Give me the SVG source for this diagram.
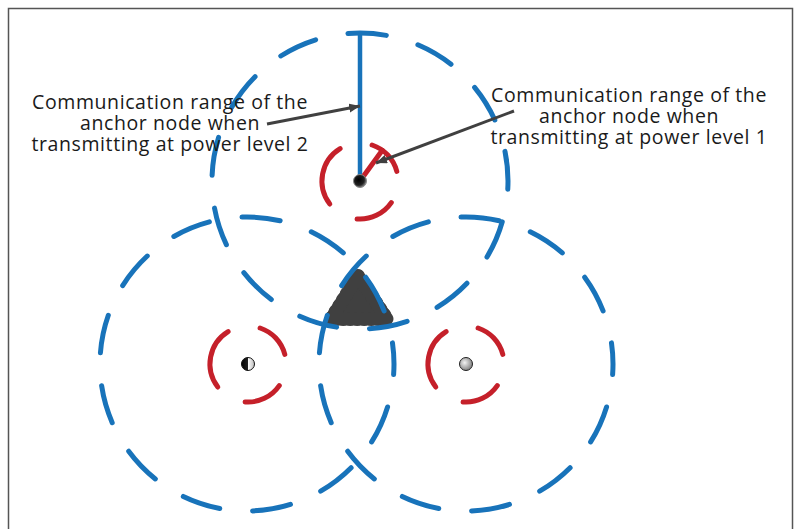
<svg xmlns="http://www.w3.org/2000/svg" width="795" height="529" viewBox="0 0 795 529">
  <style>
    .range2 { fill: none; stroke: #1873ba; stroke-width: 5; stroke-linecap: round; stroke-dasharray: 38.5 33.03; }
    .range1 { fill: none; stroke: #c5202a; stroke-width: 5; stroke-linecap: round; }
    .lbl { font-family: "Open Sans", "Noto Sans", "Liberation Sans", sans-serif; font-size: 19.5px; letter-spacing: 0.6px; fill: #1a1a1a; text-anchor: middle; }
    .pointer { stroke: #404040; stroke-width: 3; fill: none; marker-end: url(#arrow); }
  </style>
  <defs>
    <marker id="arrow" markerUnits="userSpaceOnUse" markerWidth="12" markerHeight="10" refX="11" refY="4.5" orient="auto">
      <path d="M0,0 L11,4.5 L0,9 z" fill="#404040"/>
    </marker>
    <g id="ring1">
      <path class="range1" d="M-30.2,23.1 A38,38 0 0 1 -19.9,-32.4"/>
      <path class="range1" d="M12.1,-36 A38,38 0 0 1 36.8,-9.6"/>
      <path class="range1" d="M31.3,21.6 A38,38 0 0 1 -2.9,37.9"/>
    </g>
    <radialGradient id="gDark" cx="0.4" cy="0.4" r="0.6">
      <stop offset="0" stop-color="#000"/>
      <stop offset="0.7" stop-color="#222"/>
      <stop offset="1" stop-color="#777"/>
    </radialGradient>
    <linearGradient id="gHalf" x1="0" y1="0" x2="1" y2="0">
      <stop offset="0" stop-color="#000"/>
      <stop offset="0.5" stop-color="#222"/>
      <stop offset="0.5" stop-color="#fff"/>
      <stop offset="1" stop-color="#bbb"/>
    </linearGradient>
    <radialGradient id="gGray" cx="0.4" cy="0.4" r="0.65">
      <stop offset="0" stop-color="#f2f2f2"/>
      <stop offset="1" stop-color="#7a7a7a"/>
    </radialGradient>
  </defs>

  <rect x="8.5" y="8.5" width="784" height="540" fill="#fff" stroke="#555" stroke-width="1.5"/>

  <g id="overlap">
    <polygon points="358,276 331,319 387,319" fill="#404040" stroke="#404040" stroke-width="13" stroke-linejoin="round"/>
    <polygon points="358,276 331,319 387,319" fill="none" stroke="#404040" stroke-width="14" stroke-linecap="round" stroke-dasharray="0 7"/>
  </g>

  <g id="anchor-top">
    <circle class="range2" cx="360" cy="181" r="148" stroke-dashoffset="30.2"/>
    <line x1="360" y1="181" x2="360" y2="34" stroke="#1873ba" stroke-width="4.5"/>
    <use href="#ring1" x="360" y="181"/>
    <line x1="360" y1="181" x2="382.3" y2="150.3" class="range1"/>
    <circle cx="360" cy="181" r="6.5" fill="url(#gDark)" stroke="#888" stroke-width="1"/>
  </g>

  <g id="anchor-left">
    <circle class="range2" cx="247" cy="364" r="147" stroke-dashoffset="27.9"/>
    <use href="#ring1" x="248" y="364"/>
    <circle cx="248" cy="364" r="6.5" fill="url(#gHalf)" stroke="#111" stroke-width="1"/>
  </g>

  <g id="anchor-right">
    <circle class="range2" cx="466" cy="364" r="147" stroke-dashoffset="27.9"/>
    <use href="#ring1" x="466" y="364"/>
    <circle cx="466" cy="364" r="6.5" fill="url(#gGray)" stroke="#222" stroke-width="1"/>
  </g>

  <g id="connectors">
    <line class="pointer" x1="267" y1="124" x2="360" y2="106"/>
    <line class="pointer" x1="514" y1="111" x2="376" y2="163"/>
  </g>

  <g id="label-level2">
    <text class="lbl" x="170" y="109">Communication range of the</text>
    <text class="lbl" x="170" y="130">anchor node when</text>
    <text class="lbl" x="170" y="151">transmitting at power level 2</text>
  </g>
  <g id="label-level1">
    <text class="lbl" x="629" y="102">Communication range of the</text>
    <text class="lbl" x="629" y="123">anchor node when</text>
    <text class="lbl" x="629" y="144">transmitting at power level 1</text>
  </g>
</svg>
